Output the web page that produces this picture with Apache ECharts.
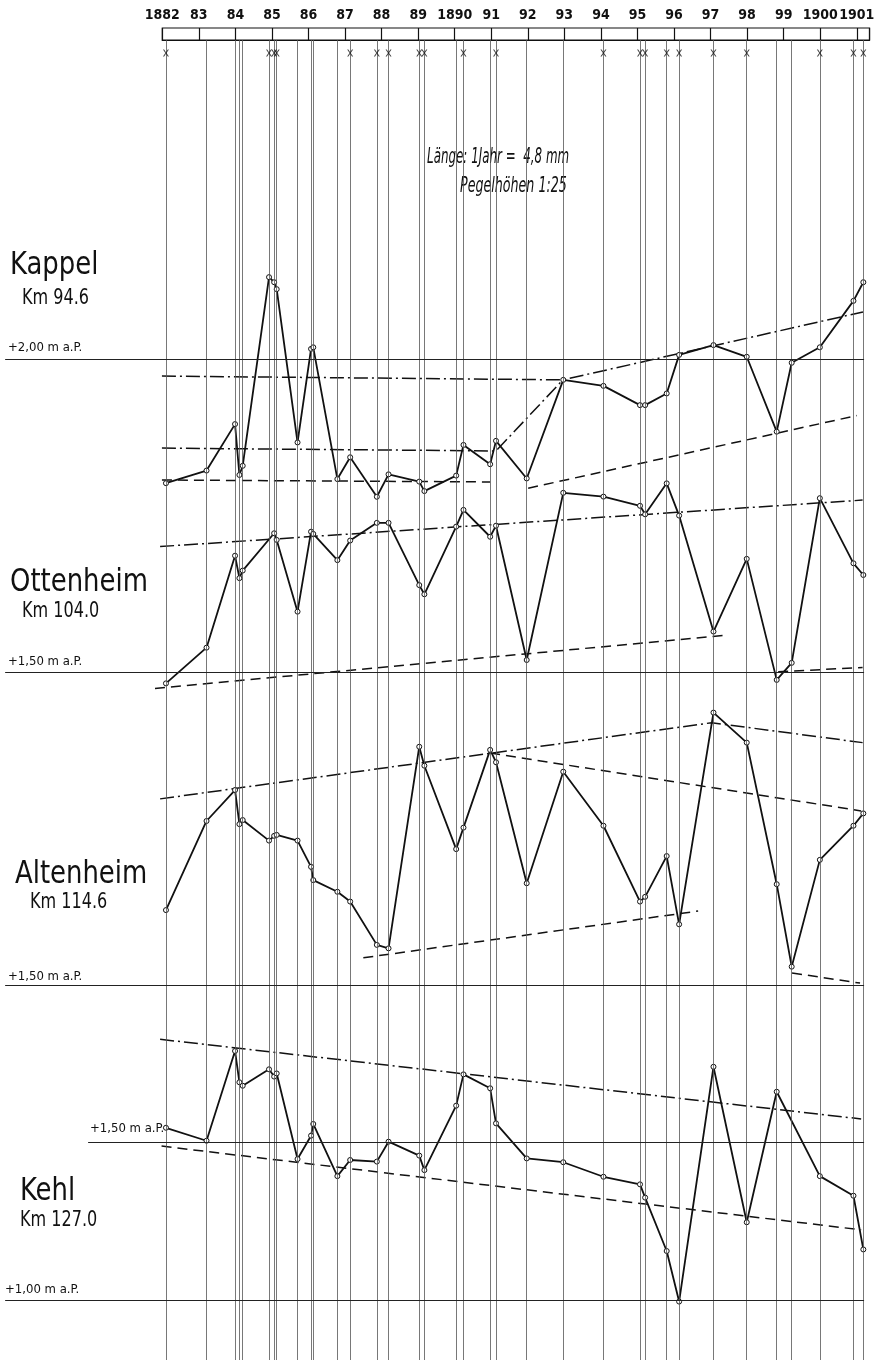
<!DOCTYPE html>
<html><head><meta charset="utf-8">
<script src="https://cdn.jsdelivr.net/npm/echarts@6.0.0/dist/echarts.min.js"></script>
<style>html,body{margin:0;padding:0;background:#fff}#c{width:879px;height:1366px}</style>
</head><body><div id="c"></div>
<script>
// ---------------- data ----------------
const yearLabels = ['1882','83','84','85','86','87','88','89','1890','91','92','93','94','95','96','97','98','99','1900','1901'];
const times = [1882.10,1883.21,1883.99,1884.11,1884.20,1884.92,1885.06,1885.13,1885.70,1886.07,1886.13,1886.79,1887.14,1887.87,1888.19,1889.03,1889.17,1890.04,1890.24,1890.97,1891.13,1891.97,1892.97,1894.07,1895.07,1895.21,1895.80,1896.14,1897.08,1897.99,1898.81,1899.22,1899.99,1900.91,1901.18];
const floodMarks = [1882.10,1884.92,1885.06,1885.13,1887.14,1887.87,1888.19,1889.03,1889.17,1890.24,1891.13,1894.07,1895.07,1895.21,1895.80,1896.14,1897.08,1897.99,1899.99,1900.91,1901.18];

const kappel    = [1.607,1.647,1.794,1.633,1.662,2.259,2.243,2.221,1.736,2.032,2.037,1.620,1.689,1.564,1.635,1.612,1.582,1.631,1.728,1.667,1.741,1.622,1.934,1.915,1.854,1.854,1.891,2.013,2.044,2.007,1.770,1.988,2.037,2.184,2.243];
const ottenheim = [1.464,1.577,1.868,1.797,1.821,null,1.939,1.918,1.691,1.944,1.937,1.854,1.916,1.972,1.972,1.775,1.746,1.960,2.013,1.928,1.963,1.538,2.067,2.055,2.026,1.999,2.097,1.995,1.628,1.858,1.475,1.529,2.050,1.844,1.807];
const altenheim = [1.737,2.019,2.117,2.009,2.022,1.957,1.972,1.975,1.957,1.874,1.832,1.795,1.764,1.627,1.616,2.254,2.194,1.930,1.998,2.244,2.205,1.822,2.175,2.004,1.764,1.779,1.908,1.692,2.362,2.267,1.819,1.558,1.896,2.004,2.043];
const kehl      = [1.545,1.504,1.788,1.689,1.678,1.730,1.707,1.717,1.446,1.520,1.557,1.392,1.443,1.438,1.501,1.457,1.411,1.615,1.714,1.670,1.559,1.448,1.436,1.390,1.366,1.324,1.155,0.995,1.738,1.246,1.659,null,1.392,1.330,1.160];

// trend lines [year, m a.P.]
const kappelDashDot1 = [[1881.99,1.946],[1892.96,1.934],[1901.17,2.149]];
const kappelDashDot2 = [[1881.99,1.718],[1891.13,1.709],[1892.96,1.934]];
const kappelDash1    = [[1881.99,1.617],[1890.97,1.611]];
const kappelDash2    = [[1892.01,1.591],[1901.00,1.821]];
const ottenheimDashDot = [[1881.94,1.897],[1901.16,2.044]];
const ottenheimDash1   = [[1881.80,1.448],[1897.49,1.617]];
const ottenheimDash2   = [[1898.85,1.501],[1901.16,1.514]];
const altenheimDashDot = [[1881.94,2.089],[1897.03,2.330],[1901.16,2.267]];
const altenheimDash1   = [[1890.97,2.234],[1901.12,2.051]];
const altenheimDash2   = [[1887.50,1.586],[1896.66,1.734]];
const altenheimDash3   = [[1899.23,1.538],[1901.09,1.506]];
const kehlDashDot = [[1881.94,1.825],[1901.12,1.573]];
const kehlDash    = [[1881.98,1.487],[1901.12,1.222]];

// ---------------- layout ----------------
const FONT = "'DejaVu Sans Condensed','Liberation Sans Narrow','DejaVu Sans',sans-serif";
const W = 879;
const X_1882 = 162.3, PXY = 36.55, PXM = 316;
const X_MIN = 1877.7, X_MAX = 1901.2;
const xpx = t => X_1882 + (t - 1882) * PXY;
const gLeft = xpx(X_MIN), gRight = W - xpx(X_MAX);
const DASHDOT = [14, 4, 2, 4], DASH = [10, 6];
// text styles: [fontSize, scaleX]
const NAME = [32, 0.9], KM = [21, 0.85], REF = [13, 1.0];

const stations = [
  {values: kappel, refV: 2.00, refPx: 359, yMin: 1.5, yMax: 2.3,
   refs: [{v: 2.00, from: X_MIN}],
   trends: [[kappelDashDot1, DASHDOT], [kappelDashDot2, DASHDOT], [kappelDash1, DASH], [kappelDash2, DASH]],
   texts: [['Kappel', 10, 266, NAME], ['Km 94.6', 22, 299, KM], ['+2,00 m a.P.', 8, 348, REF]]},
  {values: ottenheim, refV: 1.50, refPx: 672, yMin: 1.4, yMax: 2.2,
   refs: [{v: 1.50, from: X_MIN}],
   trends: [[ottenheimDashDot, DASHDOT], [ottenheimDash1, DASH], [ottenheimDash2, DASH]],
   texts: [['Ottenheim', 10, 583, NAME], ['Km 104.0', 22, 612, KM], ['+1,50 m a.P.', 8, 662, REF]]},
  {values: altenheim, refV: 1.50, refPx: 985, yMin: 1.45, yMax: 2.4,
   refs: [{v: 1.50, from: X_MIN}],
   trends: [[altenheimDashDot, DASHDOT], [altenheimDash1, DASH], [altenheimDash2, DASH], [altenheimDash3, DASH]],
   texts: [['Altenheim', 15, 875, NAME], ['Km 114.6', 30, 903, KM], ['+1,50 m a.P.', 8, 977, REF]]},
  {values: kehl, refV: 1.50, refPx: 1142, yMin: 0.95, yMax: 1.85,
   refs: [{v: 1.50, from: 1879.97}, {v: 1.00, from: X_MIN}],
   trends: [[kehlDashDot, DASHDOT], [kehlDash, DASH]],
   texts: [['+1,50 m a.P.', 90, 1129, REF], ['Kehl', 20, 1192, NAME], ['Km 127.0', 20, 1221, KM], ['+1,00 m a.P.', 5, 1290, REF]]}
];

const grid = [], xAxis = [], yAxis = [], series = [], graphic = [];
const hiddenX = (min, max) => ({type: 'value', min, max, show: false, splitLine: {show: false}});
const hiddenY = (min, max) => ({type: 'value', min, max, show: false, splitLine: {show: false}});

// 0: top year bar
grid.push({left: X_1882, right: W - xpx(1901.35), top: 28, height: 12, show: true, borderColor: '#111', borderWidth: 1.2, backgroundColor: 'transparent'});
xAxis.push({type: 'value', gridIndex: 0, position: 'top', min: 1882, max: 1901.35, interval: 1,
  axisLine: {show: true, lineStyle: {color: '#111', width: 1.2}},
  axisTick: {show: false},
  splitLine: {show: true, lineStyle: {color: '#111', width: 1.2}},
  axisLabel: {show: true, margin: 6, color: '#111', fontFamily: FONT, fontSize: 14, fontWeight: 'bold',
    formatter: v => { const r = Math.round(v); return Math.abs(v - r) < 1e-6 && r >= 1882 && r <= 1901 ? yearLabels[r - 1882] : ''; }}});
yAxis.push(Object.assign(hiddenY(0, 1), {gridIndex: 0}));

// 1: flood marks row
grid.push({left: gLeft, right: gRight, top: 47, height: 12});
xAxis.push(Object.assign(hiddenX(X_MIN, X_MAX), {gridIndex: 1}));
yAxis.push(Object.assign(hiddenY(0, 1), {gridIndex: 1}));
series.push({type: 'scatter', xAxisIndex: 1, yAxisIndex: 1, silent: true,
  symbol: 'path://M0 0L2 0L5 4L8 0L10 0L6 5L10 10L8 10L5 6L2 10L0 10L4 5Z', symbolSize: [6, 7],
  itemStyle: {color: '#111'}, data: floodMarks.map(t => [t, 0.5]), z: 5});

// 2: vertical measurement lines frame
grid.push({left: gLeft, right: gRight, top: 40, bottom: 6});
xAxis.push(Object.assign(hiddenX(X_MIN, X_MAX), {gridIndex: 2}));
yAxis.push(Object.assign(hiddenY(0, 1), {gridIndex: 2}));
series.push({type: 'line', xAxisIndex: 2, yAxisIndex: 2, silent: true, symbol: 'none', data: [],
  markLine: {silent: true, symbol: 'none', animation: false, label: {show: false},
    lineStyle: {color: '#555', width: 0.8, type: 'solid'},
    data: times.map(t => ({xAxis: t}))}});

// stations
stations.forEach((s, i) => {
  const gi = 3 + i;
  const top = s.refPx - (s.yMax - s.refV) * PXM;
  const height = (s.yMax - s.yMin) * PXM;
  grid.push({left: gLeft, right: gRight, top, height});
  xAxis.push(Object.assign(hiddenX(X_MIN, X_MAX), {gridIndex: gi}));
  yAxis.push(Object.assign(hiddenY(s.yMin, s.yMax), {gridIndex: gi}));
  series.push({type: 'line', xAxisIndex: gi, yAxisIndex: gi, silent: true, symbol: 'none', data: [],
    markLine: {silent: true, symbol: 'none', animation: false, label: {show: false},
      lineStyle: {color: '#222', width: 1.1, type: 'solid'},
      data: s.refs.map(r => [{coord: [r.from, r.v]}, {coord: [X_MAX, r.v]}])}});
  s.trends.forEach(([d, pat]) => {
    series.push({type: 'line', xAxisIndex: gi, yAxisIndex: gi, silent: true, symbol: 'none', z: 3,
      lineStyle: {color: '#111', width: 1.5, type: pat}, data: d});
  });
  series.push({type: 'line', xAxisIndex: gi, yAxisIndex: gi, silent: true, z: 4,
    symbol: 'circle', symbolSize: 5, showAllSymbol: true,
    itemStyle: {color: '#fff', borderColor: '#111', borderWidth: 1},
    lineStyle: {color: '#111', width: 1.8},
    data: times.map((t, k) => [t, s.values[k]]).filter(d => d[1] !== null)});
  s.texts.forEach(([txt, x, y, st]) => {
    graphic.push({type: 'text', x, y, scaleX: st[1], silent: true,
      style: {text: txt, fill: '#111', font: st[0] + 'px ' + FONT, verticalAlign: 'middle', align: 'left'}});
  });
});

graphic.push({type: 'text', x: 427, y: 158, scaleX: 0.63, silent: true,
  style: {text: 'Länge: 1Jahr =  4,8 mm', fill: '#111', font: 'italic 21px ' + FONT, verticalAlign: 'middle'}});
graphic.push({type: 'text', x: 460, y: 187, scaleX: 0.67, silent: true,
  style: {text: 'Pegelhöhen 1:25', fill: '#111', font: 'italic 21px ' + FONT, verticalAlign: 'middle'}});

const chart = echarts.init(document.getElementById('c'), null, {renderer: 'canvas'});
chart.setOption({backgroundColor: '#fff', animation: false, grid, xAxis, yAxis, series, graphic});
</script></body></html>
